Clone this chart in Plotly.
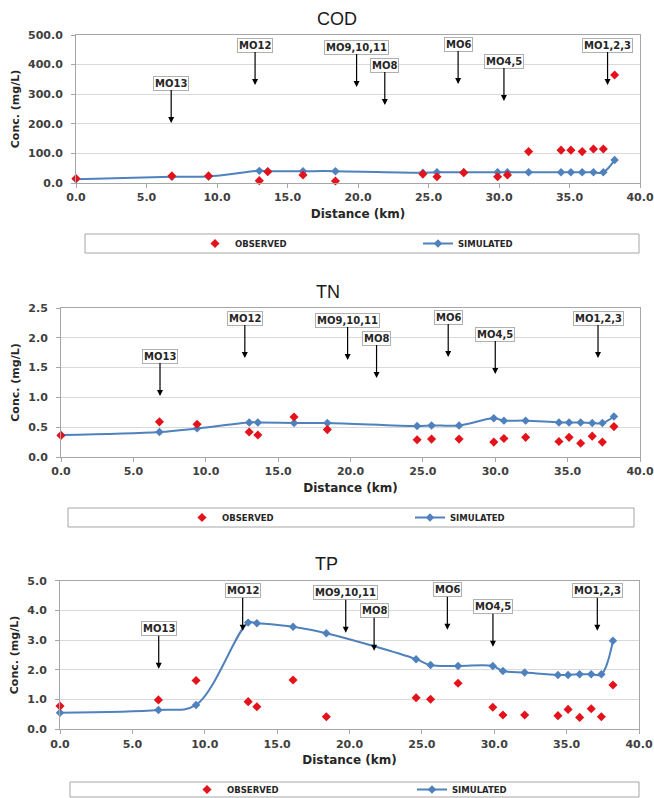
import plotly.graph_objects as go

# ---------------- data ----------------
DIST_KM = [0.0, 6.8, 9.4, 13.0, 13.6, 16.1, 18.4, 24.6, 25.6, 27.5,
           29.9, 30.6, 32.1, 34.4, 35.1, 35.9, 36.7, 37.4, 38.2]

COD_OBS = [15, 24, 24, 8, 38, 27, 7, 30, 21, 35, 21, 27, 106, 111, 111, 106, 115, 115, 365]
COD_SIM = [13, 21, 22, 41, 40, 40, 40, 35, 36, 36, 36, 36, 36, 36, 36, 36, 36, 36, 78]

TN_OBS = [0.36, 0.59, 0.55, 0.42, 0.37, 0.67, 0.46, 0.29, 0.30, 0.30,
          0.25, 0.31, 0.33, 0.26, 0.33, 0.23, 0.35, 0.25, 0.51]
TN_SIM = [0.37, 0.42, 0.48, 0.58, 0.58, 0.57, 0.57, 0.52, 0.53, 0.53,
          0.65, 0.61, 0.61, 0.58, 0.58, 0.58, 0.57, 0.57, 0.68]

TP_OBS = [0.78, 0.99, 1.64, 0.93, 0.76, 1.66, 0.42, 1.06, 1.01, 1.55,
          0.74, 0.48, 0.48, 0.46, 0.67, 0.40, 0.69, 0.42, 1.49]
TP_SIM = [0.56, 0.65, 0.82, 3.59, 3.57, 3.45, 3.23, 2.36, 2.16, 2.13,
          2.13, 1.96, 1.91, 1.83, 1.83, 1.85, 1.85, 1.85, 2.98]

STATION_LABELS = ["MO13", "MO12", "MO9,10,11", "MO8", "MO6", "MO4,5", "MO1,2,3"]
COD_ARROW_KM = [6.75, 12.7, 19.9, 21.9, 27.1, 30.35, 37.7]
TN_ARROW_KM = [6.84, 12.7, 19.8, 21.8, 26.75, 30.0, 37.1]
TP_ARROW_KM = [6.82, 12.62, 19.74, 21.7, 26.76, 29.91, 37.12]

SERIES_NAMES = ["OBSERVED", "SIMULATED"]
X_TITLE = "Distance (km)"
Y_TITLE = "Conc. (mg/L)"

# ---------------- layout constants ----------------
W, H = 654, 798
# arrow tip depth below plot top (px) for each station label
TIP_DEPTH = [88, 50, 52, 70, 49, 66, 50]

PANELS = [
    dict(title="COD", obs=COD_OBS, sim=COD_SIM, arrows=COD_ARROW_KM,
         yrange=[0, 500], dtick=100, xdom=(76, 640), ydom=(35, 183),
         title_xy=(337, 18.5), box=(85, 234, 639, 253), leg_left=195, entry=178),
    dict(title="TN", obs=TN_OBS, sim=TN_SIM, arrows=TN_ARROW_KM,
         yrange=[0, 2.5], dtick=0.5, xdom=(61, 640), ydom=(308, 457),
         title_xy=(328, 291.5), box=(68, 508, 634, 527), leg_left=182, entry=183),
    dict(title="TP", obs=TP_OBS, sim=TP_SIM, arrows=TP_ARROW_KM,
         yrange=[0, 5.0], dtick=1.0, xdom=(60, 639), ydom=(580.7, 729.3),
         title_xy=(326, 563.5), box=(70, 782, 639, 797), leg_left=187, entry=180),
]

RED = "#E3121B"
BLUE = "#4F81BD"
GRID = "#D9D9D9"
AXIS = "#A6A6A6"
FONT = "DejaVu Sans"
TITLE_FONT = "Liberation Sans Narrow, Arial Narrow, Liberation Sans, sans-serif"

fig = go.Figure()
layout = dict(
    width=W, height=H,
    margin=dict(l=0, r=0, t=0, b=0, autoexpand=False),
    paper_bgcolor="white", plot_bgcolor="white",
    annotations=[], shapes=[],
)

for i, p in enumerate(PANELS):
    n = "" if i == 0 else str(i + 1)
    xa, ya = "x" + n, "y" + n
    leg = "legend" + n

    fig.add_trace(go.Scatter(
        x=DIST_KM, y=p["sim"], mode="lines+markers", name=SERIES_NAMES[1],
        line=dict(color=BLUE, width=2, shape="spline", smoothing=1),
        marker=dict(symbol="diamond", size=6.5, color=BLUE),
        cliponaxis=False,
        xaxis=xa, yaxis=ya, legend=leg, legendrank=2,
    ))
    fig.add_trace(go.Scatter(
        x=DIST_KM, y=p["obs"], mode="markers", name=SERIES_NAMES[0],
        marker=dict(symbol="diamond", size=7, color=RED),
        cliponaxis=False,
        xaxis=xa, yaxis=ya, legend=leg, legendrank=1,
    ))

    x0, x1 = p["xdom"]
    y0, y1 = p["ydom"]
    layout["xaxis" + n] = dict(
        domain=[x0 / W, x1 / W], anchor=ya, range=[0, 40], tick0=0, dtick=5,
        tickformat=".1f", showgrid=False, zeroline=False,
        showline=True, linecolor=AXIS, linewidth=1, mirror=True,
        ticks="outside", ticklen=4, tickcolor=AXIS,
        tickfont=dict(family=FONT, size=11, color="#404040", weight="bold"),
        title=dict(text=X_TITLE, standoff=6,
                   font=dict(family=FONT, size=12, color="#262626", weight="bold")),
    )
    layout["yaxis" + n] = dict(
        domain=[1 - y1 / H, 1 - y0 / H], anchor=xa, range=p["yrange"],
        tick0=0, dtick=p["dtick"], tickformat=".1f",
        showgrid=True, gridcolor=GRID, gridwidth=1, zeroline=False,
        showline=True, linecolor=AXIS, linewidth=1, mirror=True,
        ticks="outside", ticklen=4, tickcolor=AXIS, ticklabelstandoff=6,
        tickfont=dict(family=FONT, size=11, color="#404040", weight="bold"),
        title=dict(text=Y_TITLE, standoff=6,
                   font=dict(family=FONT, size=11, color="#262626", weight="bold")),
    )

    # panel title
    tx, ty = p["title_xy"]
    layout["annotations"].append(dict(
        text=p["title"], xref="paper", yref="paper", x=tx / W, y=1 - ty / H,
        xanchor="center", yanchor="middle", showarrow=False,
        font=dict(family=TITLE_FONT, size=18, color="#1a1a1a"),
    ))

    # station call-outs with arrows
    ph = y1 - y0
    for lab, km, depth in zip(STATION_LABELS, p["arrows"], TIP_DEPTH):
        layout["annotations"].append(dict(
            text=lab, xref=xa, yref=ya + " domain", x=km, y=1 - depth / ph,
            showarrow=True, ax=0, ay=-40, arrowhead=2, arrowsize=1,
            arrowwidth=1.2, arrowcolor="#000000",
            bgcolor="white", bordercolor="#B0B0B0", borderwidth=1, borderpad=1,
            font=dict(family=FONT, size=10, color="#262626", weight="bold"),
        ))

    # legend frame + legend
    bx0, by0, bx1, by1 = p["box"]
    layout["shapes"].append(dict(
        type="rect", xref="paper", yref="paper",
        x0=bx0 / W, x1=bx1 / W, y0=1 - by1 / H, y1=1 - by0 / H,
        line=dict(color=AXIS, width=1), fillcolor="white", layer="below",
    ))
    layout[leg] = dict(
        orientation="h", x=p["leg_left"] / W, xanchor="left",
        y=1 - ((by0 + by1) / 2) / H, yanchor="middle",
        bgcolor="rgba(0,0,0,0)", borderwidth=0,
        entrywidthmode="pixels", entrywidth=p["entry"],
        font=dict(family=FONT, size=8.5, color="#262626", weight="bold"),
    )

fig.update_layout(**layout)
fig.write_html("out.html")
